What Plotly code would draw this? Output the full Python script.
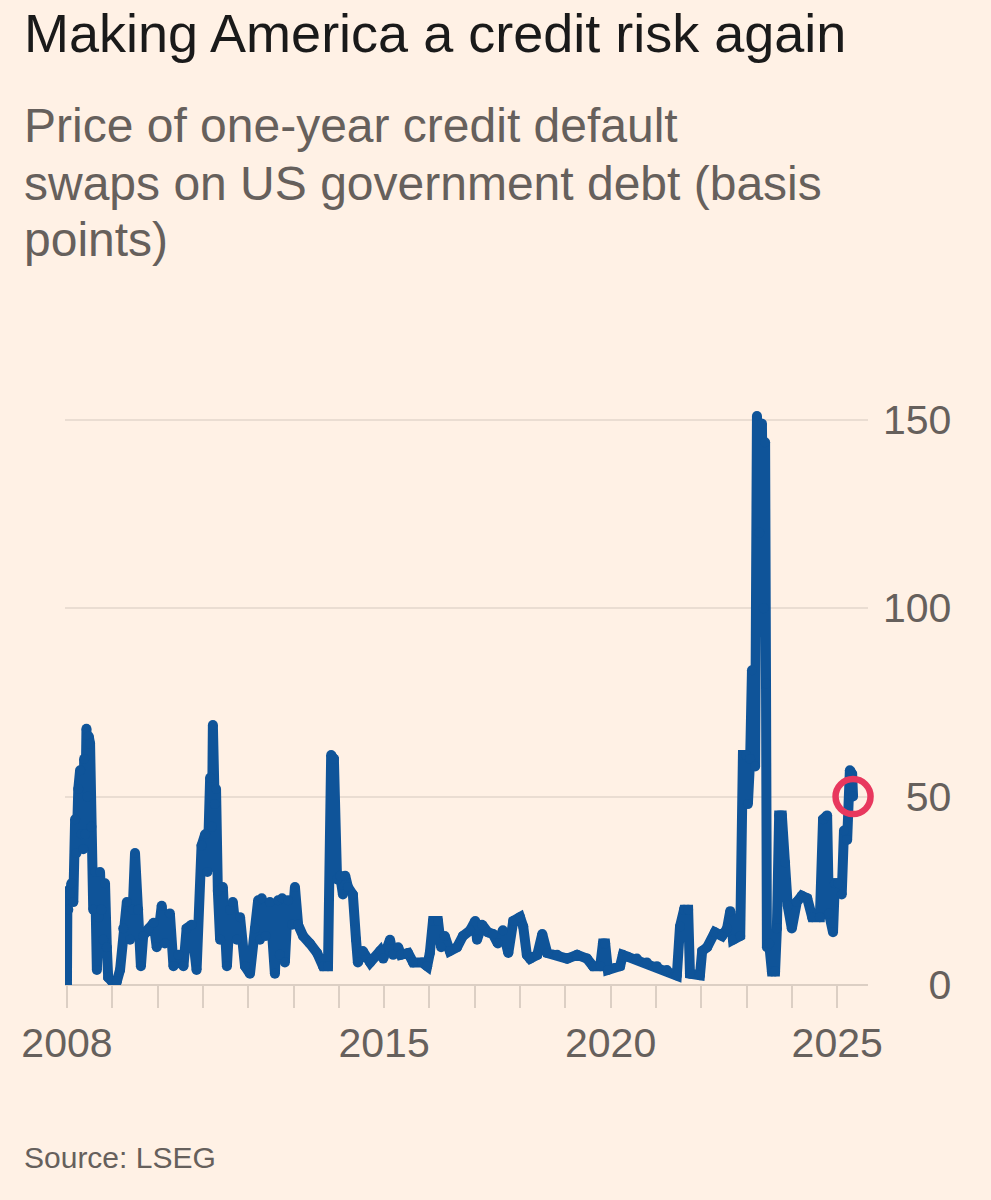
import plotly.graph_objects as go
import pandas as pd

# one-year US sovereign CDS, basis points
years = [
    2008.00, 2008.01, 2008.03, 2008.06, 2008.10, 2008.14, 2008.18, 2008.21, 2008.25, 2008.29,
    2008.32, 2008.36, 2008.38, 2008.40, 2008.43, 2008.45, 2008.48, 2008.51, 2008.54, 2008.58,
    2008.62, 2008.66, 2008.70, 2008.73, 2008.76, 2008.80, 2008.84, 2008.88, 2008.91, 2008.99,
    2009.10, 2009.17, 2009.24, 2009.32, 2009.39, 2009.45, 2009.50, 2009.57, 2009.63, 2009.68,
    2009.80, 2009.91, 2009.98, 2010.09, 2010.16, 2010.27, 2010.35, 2010.46, 2010.57, 2010.64,
    2010.75, 2010.86, 2010.97, 2011.05, 2011.10, 2011.16, 2011.20, 2011.22, 2011.26, 2011.29,
    2011.33, 2011.38, 2011.44, 2011.53, 2011.60, 2011.66, 2011.75, 2011.82, 2011.93, 2012.04,
    2012.15, 2012.22, 2012.26, 2012.30, 2012.39, 2012.48, 2012.59, 2012.66, 2012.70, 2012.75,
    2012.81, 2012.88, 2012.97, 2013.03, 2013.10, 2013.21, 2013.36, 2013.52, 2013.65, 2013.76,
    2013.83, 2013.89, 2013.96, 2014.03, 2014.09, 2014.14, 2014.20, 2014.31, 2014.38, 2014.42,
    2014.53, 2014.69, 2014.91, 2014.98, 2015.13, 2015.20, 2015.31, 2015.37, 2015.53, 2015.64,
    2015.84, 2015.95, 2016.01, 2016.08, 2016.19, 2016.26, 2016.34, 2016.45, 2016.61, 2016.74,
    2016.90, 2017.01, 2017.05, 2017.16, 2017.29, 2017.40, 2017.51, 2017.62, 2017.74, 2017.85,
    2018.00, 2018.07, 2018.15, 2018.22, 2018.38, 2018.49, 2018.60, 2018.82, 2019.04, 2019.26,
    2019.48, 2019.61, 2019.77, 2019.83, 2019.88, 2019.94, 2020.21, 2020.27, 2020.38, 2020.58,
    2020.80, 2021.02, 2021.24, 2021.46, 2021.53, 2021.62, 2021.71, 2021.75, 2021.97, 2022.02,
    2022.13, 2022.30, 2022.46, 2022.57, 2022.64, 2022.70, 2022.86, 2022.92, 2022.99, 2023.03,
    2023.08, 2023.12, 2023.19, 2023.23, 2023.28, 2023.34, 2023.38, 2023.41, 2023.43, 2023.45,
    2023.50, 2023.56, 2023.63, 2023.67, 2023.72, 2023.78, 2023.85, 2023.91, 2024.00, 2024.11,
    2024.22, 2024.34, 2024.45, 2024.62, 2024.69, 2024.78, 2024.82, 2024.91, 2024.95, 2025.02,
    2025.10, 2025.15, 2025.22, 2025.28, 2025.33, 2025.35,
]
bps = [
    0, 25, 20, 24, 27, 22, 44, 35, 52, 57,
    40, 36, 60, 40, 68, 50, 66, 64, 42, 20,
    30, 4, 18, 30, 20, 12, 27, 10, 2, 1,
    1, 4, 15, 22, 12, 20, 35, 20, 5, 13,
    15, 16.5, 10, 21, 11, 19, 5, 8, 5, 15,
    16, 4, 37, 40, 30, 55, 42, 69, 48, 52,
    25, 12, 26, 5, 20, 22, 12, 18, 5, 3,
    15, 22.5, 12, 23, 13, 22, 3, 22.5, 8, 23,
    6, 22.5, 16, 26, 16, 13, 11, 8.5, 5, 5,
    61, 60, 28, 29, 24, 29, 26, 24, 12, 6,
    9, 6, 9, 7, 12, 8, 10, 8, 8.5, 6,
    6, 5, 8.5, 17, 17, 10, 13, 9, 10, 13,
    14.5, 17, 12, 16, 14, 13.5, 11, 14.5, 8.5, 17,
    18, 15.5, 8, 7, 8, 13.5, 8.5, 8, 7, 8,
    7, 5, 5, 11, 11, 4, 5, 8, 7.5, 7,
    6, 5, 4, 2.5, 15.5, 20, 20, 3, 2.6, 9,
    10, 14, 13, 15, 19.6, 12, 13, 61, 61, 48,
    60, 83.5, 58, 151, 120, 149, 100, 144, 80, 10,
    11, 3.6, 3.6, 15, 45, 45, 32.5, 21, 15, 22,
    23.7, 23, 18, 18, 44, 45, 19, 14, 27, 27,
    24, 41, 38.5, 57, 56, 50,
]

x_ticks = [2008, 2015, 2020, 2025]
y_ticks = [0, 50, 100, 150]
y_labels = ["\u2007\u20070", "\u200750", "100", "150"]


def to_date(y):
    yr = int(y)
    return pd.Timestamp(f"{yr}-01-01") + pd.Timedelta(days=(y - yr) * 365.25)


dates = [to_date(y) for y in years]

BG = "#FFF1E5"
BLUE = "#0F5499"
GREY = "#66605C"
GRID = "#EADDD2"
FONT = "Liberation Sans, Arial, sans-serif"

fig = go.Figure()
fig.add_trace(go.Scatter(
    x=dates, y=bps, mode="lines+markers",
    line=dict(color=BLUE, width=10),
    marker=dict(color=BLUE, size=10),
    hoverinfo="skip", showlegend=False,
))
# latest value ring
fig.add_trace(go.Scatter(
    x=[dates[-1]], y=[bps[-1]], mode="markers",
    marker=dict(symbol="circle-open", size=35, color="#E8385E", line=dict(width=6.5)),
    hoverinfo="skip", showlegend=False, cliponaxis=False,
))

fig.update_layout(
    width=991, height=1200,
    paper_bgcolor=BG, plot_bgcolor=BG,
    margin=dict(l=65, r=123, t=382, b=215),
    font=dict(family=FONT, color=GREY),
    xaxis=dict(
        type="date",
        range=[to_date(2007.956), to_date(2025.68)],
        tickvals=[f"{y}-01-01" for y in x_ticks],
        ticktext=[str(y) for y in x_ticks],
        ticks="outside", ticklen=22, tickwidth=1.5, tickcolor="#DCCFC4",
        minor=dict(dtick="M12", tick0="2008-01-01", ticks="outside",
                   ticklen=22, tickwidth=1.5, tickcolor="#DCCFC4", showgrid=False),
        showgrid=False, showline=False, zeroline=False,
        tickfont=dict(size=41, color=GREY),
    ),
    yaxis=dict(
        side="right", range=[0, 160],
        tickvals=y_ticks, ticktext=y_labels,
        showgrid=True, gridcolor=GRID, gridwidth=1.5,
        zeroline=True, zerolinecolor="#DCCFC4", zerolinewidth=1.5,
        ticks="", ticklabelstandoff=14,
        tickfont=dict(size=41, color=GREY),
    ),
)

# title, subtitle and source in paper coords (plot area: 65..868 px, 382..985 px)
def px(xp, yp):
    return (xp - 65) / 803, (985 - yp) / 603


texts = [
    ("Making America a credit risk again", 33, 54, "#1A1A1A"),
    ("Price of one-year credit default", 126, 48, GREY),
    ("swaps on US government debt (basis", 183, 48, GREY),
    ("points)", 240, 48, GREY),
    ("Source: LSEG", 1157, 30, GREY),
]
for txt, ypix, size, col in texts:
    ax, ay = px(22, ypix)
    fig.add_annotation(
        text=txt, x=ax, y=ay, xref="paper", yref="paper",
        xanchor="left", yanchor="middle", showarrow=False,
        font=dict(size=size, color=col, family=FONT),
    )

fig.write_html("out.html", config={"displayModeBar": False},
               post_script="document.body.style.margin='0';")
